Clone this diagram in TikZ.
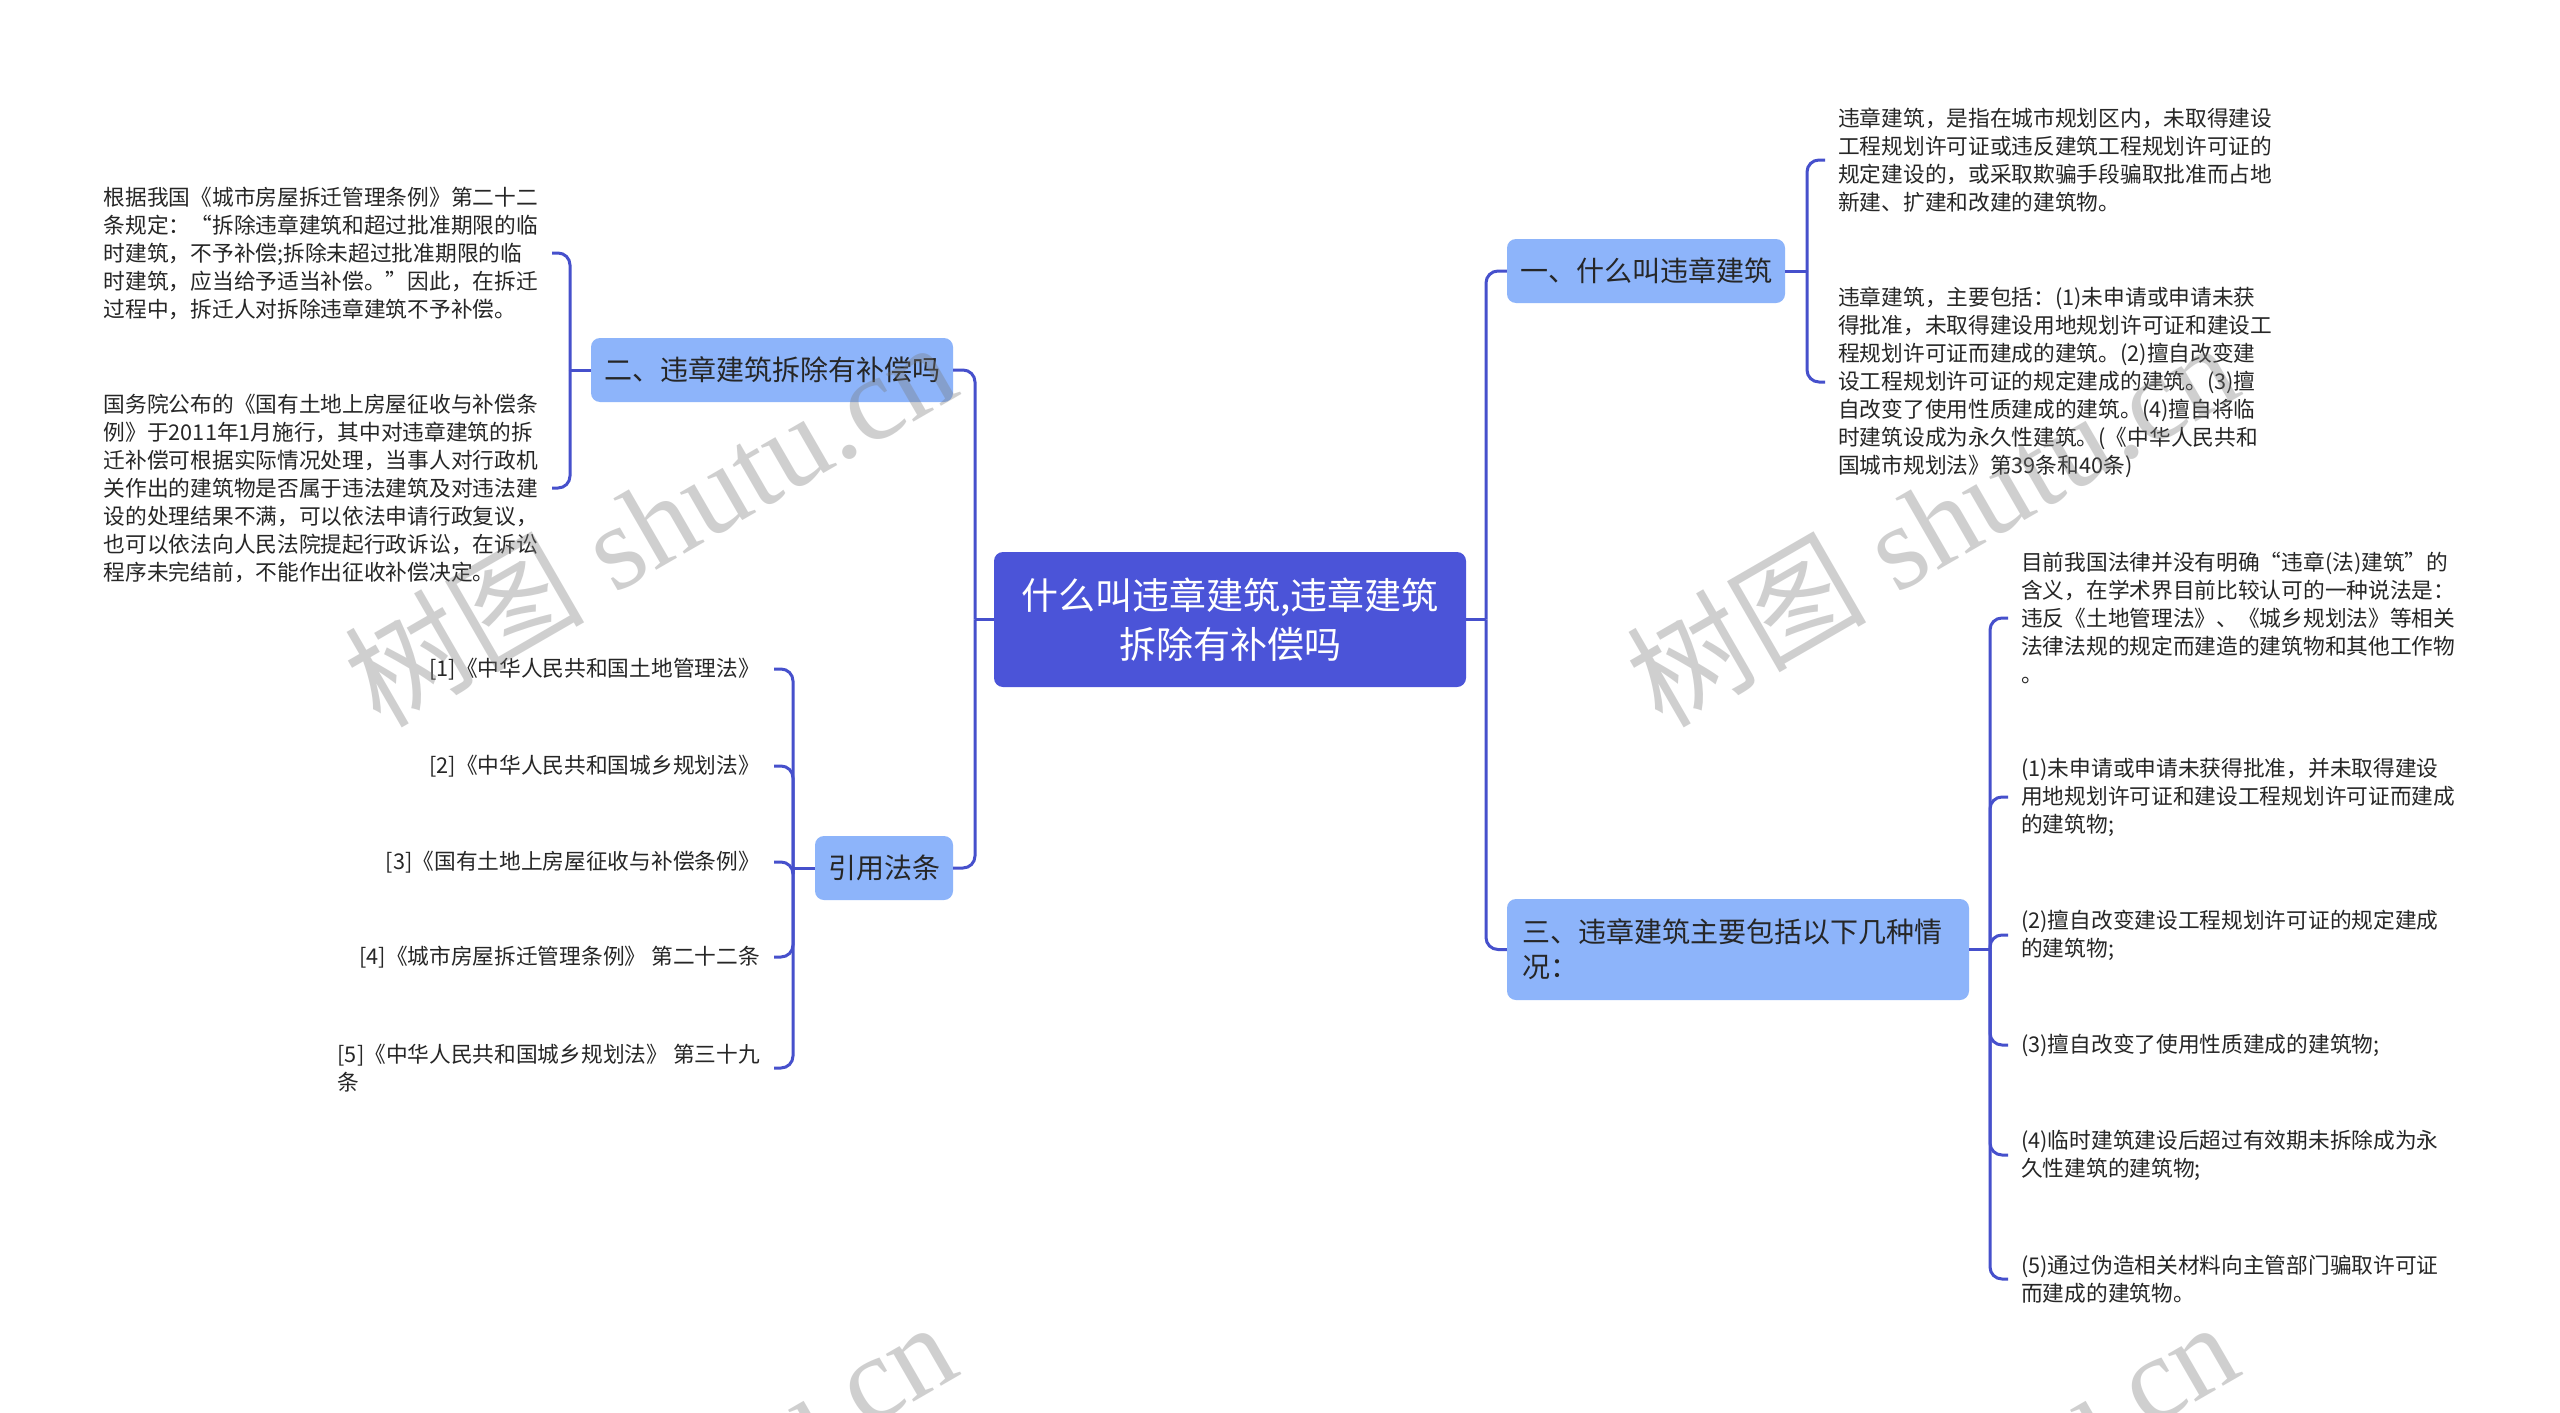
\documentclass[tikz,border=0pt]{standalone}
\usepackage{fontspec}
\setmainfont{Noto Sans CJK SC}
\newfontfamily\wmfont{Liberation Serif}
\definecolor{linec}{HTML}{4650CC}
\definecolor{rootc}{HTML}{4B54D8}
\definecolor{subc}{HTML}{8DB4FA}
\definecolor{txtc}{HTML}{262626}
\definecolor{wmc}{HTML}{787878}
\begin{document}
\begin{tikzpicture}[x=1pt,y=-1pt,
  conn/.style={draw=linec, line width=3pt},
  rc/.style={rounded corners=12pt},
  rootbox/.style={fill=rootc, rounded corners=9pt, text=white, align=center,
    font=\fontsize{37}{49}\selectfont, minimum width=472pt, minimum height=135pt, inner sep=0pt},
  subbox/.style={fill=subc, rounded corners=9pt, text=txtc,
    font=\fontsize{28}{35}\selectfont, inner sep=0pt},
  leafw/.style={anchor=west, align=left, text=txtc,
    font=\fontsize{21.7}{28}\selectfont, inner xsep=13pt, inner ysep=0pt},
  leafe/.style={anchor=east, align=left, text=txtc,
    font=\fontsize{21.7}{28}\selectfont, inner xsep=14pt, inner ysep=0pt},
  leafer/.style={anchor=east, align=right, text=txtc,
    font=\fontsize{21.7}{28}\selectfont, inner xsep=14pt, inner ysep=0pt},
  wm/.style={text=wmc, opacity=0.35, rotate=30, font=\fontsize{120}{130}\selectfont, inner sep=0pt}
]
\useasboundingbox (0,0) rectangle (2560,1413);
\fill[white] (0,0) rectangle (2560,1413);

% main nodes
\node[rootbox] (c) at (1230,619.5) {什么叫违章建筑,违章建筑\\拆除有补偿吗};
\node[subbox, minimum width=278pt, minimum height=64pt] (n1) at (1646,271) {一、什么叫违章建筑};
\node[subbox, minimum width=362pt, minimum height=64pt] (n2) at (772,370) {二、违章建筑拆除有补偿吗};
\node[subbox, minimum width=138pt, minimum height=64pt] (ref) at (884,868) {引用法条};
\node[subbox, text width=432pt, inner xsep=15pt, align=left, minimum height=101pt] (n3) at (1738,949.5) {三、违章建筑主要包括以下几种情\\况：};

% junctions
\coordinate (LJ) at (975,619.5);
\coordinate (RJ) at (1486,619.5);
\coordinate (B1) at (1807,271);
\coordinate (B2) at (570,370);
\coordinate (B3) at (793,868);
\coordinate (B4) at (1990,949.5);

% leaves of 一
\node[leafw] (l11) at (1825,160) {违章建筑，是指在城市规划区内，未取得建设\\工程规划许可证或违反建筑工程规划许可证的\\规定建设的，或采取欺骗手段骗取批准而占地\\新建、扩建和改建的建筑物。};
\node[leafw] (l12) at (1825,382) {违章建筑，主要包括：(1)未申请或申请未获\\得批准，未取得建设用地规划许可证和建设工\\程规划许可证而建成的建筑。(2)擅自改变建\\设工程规划许可证的规定建成的建筑。(3)擅\\自改变了使用性质建成的建筑。(4)擅自将临\\时建筑设成为永久性建筑。(《中华人民共和\\国城市规划法》第39条和40条)};

% leaves of 二
\node[leafe] (l21) at (552,253) {根据我国《城市房屋拆迁管理条例》第二十二\\条规定：“拆除违章建筑和超过批准期限的临\\时建筑，不予补偿;拆除未超过批准期限的临\\时建筑，应当给予适当补偿。”因此，在拆迁\\过程中，拆迁人对拆除违章建筑不予补偿。};
\node[leafe] (l22) at (552,488) {国务院公布的《国有土地上房屋征收与补偿条\\例》于2011年1月施行，其中对违章建筑的拆\\迁补偿可根据实际情况处理，当事人对行政机\\关作出的建筑物是否属于违法建筑及对违法建\\设的处理结果不满，可以依法申请行政复议，\\也可以依法向人民法院提起行政诉讼，在诉讼\\程序未完结前，不能作出征收补偿决定。};

% leaves of 引用法条
\node[leafer] (r1) at (774,669) {[1]《中华人民共和国土地管理法》};
\node[leafer] (r2) at (774,766) {[2]《中华人民共和国城乡规划法》};
\node[leafer] (r3) at (774,862) {[3]《国有土地上房屋征收与补偿条例》};
\node[leafer] (r4) at (774,957) {[4]《城市房屋拆迁管理条例》 第二十二条};
\node[leafe] (r5) at (774,1068) {[5]《中华人民共和国城乡规划法》 第三十九\\条};

% leaves of 三
\node[leafw] (l31) at (2008,618) {目前我国法律并没有明确“违章(法)建筑”的\\含义，在学术界目前比较认可的一种说法是：\\违反《土地管理法》、《城乡规划法》等相关\\法律法规的规定而建造的建筑物和其他工作物\\。};
\node[leafw] (l32) at (2008,797) {(1)未申请或申请未获得批准，并未取得建设\\用地规划许可证和建设工程规划许可证而建成\\的建筑物;};
\node[leafw] (l33) at (2008,935) {(2)擅自改变建设工程规划许可证的规定建成\\的建筑物;};
\node[leafw] (l34) at (2008,1045) {(3)擅自改变了使用性质建成的建筑物;};
\node[leafw] (l35) at (2008,1155) {(4)临时建筑建设后超过有效期未拆除成为永\\久性建筑的建筑物;};
\node[leafw] (l36) at (2008,1279) {(5)通过伪造相关材料向主管部门骗取许可证\\而建成的建筑物。};

% connectors: trunks
\draw[conn] (c.west) -- (LJ);
\draw[conn, rc] (LJ) |- (n2.east);
\draw[conn, rc] (LJ) |- (ref.east);
\draw[conn] (c.east) -- (RJ);
\draw[conn, rc] (RJ) |- (n1.west);
\draw[conn, rc] (RJ) |- (n3.west);

% brackets
\draw[conn] (n1.east) -- (B1);
\draw[conn, rc] (B1) |- (l11.west);
\draw[conn, rc] (B1) |- (l12.west);

\draw[conn] (n2.west) -- (B2);
\draw[conn, rc] (B2) |- (l21.east);
\draw[conn, rc] (B2) |- (l22.east);

\draw[conn] (ref.west) -- (B3);
\foreach \r in {r1,r2,r3,r4,r5} { \draw[conn, rc] (B3) |- (\r.east); }

\draw[conn] (n3.east) -- (B4);
\foreach \l in {l31,l32,l33,l34,l35,l36} { \draw[conn, rc] (B4) |- (\l.west); }

% watermarks
\begin{scope}
\clip (0,0) rectangle (2560,1413);
\node[wm] (wm1) at (649,522) {树图{\wmfont\ shutu.cn}};
\node[wm] (wm2) at (1931,522) {树图{\wmfont\ shutu.cn}};
\node[wm] (wm3) at (649,1502) {树图{\wmfont\ shutu.cn}};
\node[wm] (wm4) at (1931,1502) {树图{\wmfont\ shutu.cn}};
\end{scope}
\end{tikzpicture}
\end{document}
